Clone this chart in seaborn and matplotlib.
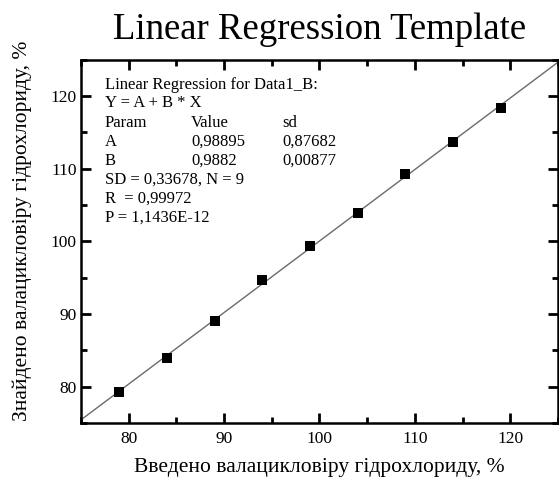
import matplotlib
matplotlib.use("Agg")
import matplotlib.pyplot as plt
from matplotlib.ticker import MultipleLocator
import seaborn as sns
import pandas as pd

# Data
introduced = [79, 84, 89, 94, 99, 104, 109, 114, 119]
found = [79.3, 83.9, 89.1, 94.7, 99.3, 103.9, 109.3, 113.7, 118.4]
x_ticks = [80, 90, 100, 110, 120]
y_ticks = [80, 90, 100, 110, 120]

title = "Linear Regression Template"
xlabel = "Введено валацикловіру гідрохлориду, %"
ylabel = "Знайдено валацикловіру гідрохлориду, %"

header_lines = ["Linear Regression for Data1_B:", "Y = A + B * X"]
table_rows = [["Param", "Value", "sd"],
              ["A", "0,98895", "0,87682"],
              ["B", "0,9882", "0,00877"]]
stat_lines = ["SD = 0,33678, N = 9", "R  = 0,99972", "P = 1,1436E-12"]

df = pd.DataFrame({"x": introduced, "y": found})

sns.set_theme(style="ticks")
plt.rcParams["font.family"] = ["Liberation Serif", "DejaVu Serif"]
plt.rcParams["text.color"] = "black"
plt.rcParams["axes.labelcolor"] = "black"
plt.rcParams["xtick.color"] = "black"
plt.rcParams["ytick.color"] = "black"

fig = plt.figure(figsize=(5.59, 4.79), dpi=100)
ax = fig.add_axes([0.145, 0.117, 0.853, 0.758])
ax.set_xlim(75, 125)
ax.set_ylim(75, 125)

sns.regplot(data=df, x="x", y="y", ax=ax, ci=None, truncate=False,
            marker="s",
            scatter_kws=dict(s=45, color="black", edgecolors="black", linewidths=0,
                             alpha=1, zorder=3),
            line_kws=dict(color="#6a6a6a", linewidth=1.0, zorder=2))

ax.set_xlim(75, 125)
ax.set_ylim(75, 125)
ax.set_xticks(x_ticks)
ax.set_yticks(y_ticks)
ax.xaxis.set_minor_locator(MultipleLocator(5))
ax.yaxis.set_minor_locator(MultipleLocator(5))
ax.tick_params(which="major", direction="in", length=7, width=2,
               top=True, right=True, labelsize=12.5, color="black")
ax.tick_params(axis="x", which="major", pad=6)
ax.tick_params(axis="y", which="major", pad=3)
ax.tick_params(which="minor", direction="in", length=4, width=2,
               top=True, right=True, color="black")
for s in ax.spines.values():
    s.set_linewidth(1.8)
    s.set_color("black")

ax.set_title(title, fontsize=26.5, pad=15, color="black")
ax.set_xlabel(xlabel, fontsize=15.5)
ax.set_ylabel(ylabel, fontsize=15.5)
ax.xaxis.set_label_coords(0.5, -0.096)
ax.yaxis.set_label_coords(-0.103, 0.529)

# annotation block
fs = 12
x0 = 105 / 559
ys = [85, 103, 123, 142, 161, 180, 199, 218]
def fy(p):
    return 1 - p / 479
for i, t in enumerate(header_lines):
    fig.text(x0, fy(ys[i]), t, fontsize=fs, va="center", ha="left")
cols = [105 / 559, 191 / 559, 282 / 559]
for r, row in enumerate(table_rows):
    for c, t in enumerate(row):
        fig.text(cols[c], fy(ys[2 + r]), t, fontsize=fs, va="center", ha="left")
for i, t in enumerate(stat_lines):
    fig.text(x0, fy(ys[5 + i]), t, fontsize=fs, va="center", ha="left")

fig.savefig("out.png", dpi=100)
